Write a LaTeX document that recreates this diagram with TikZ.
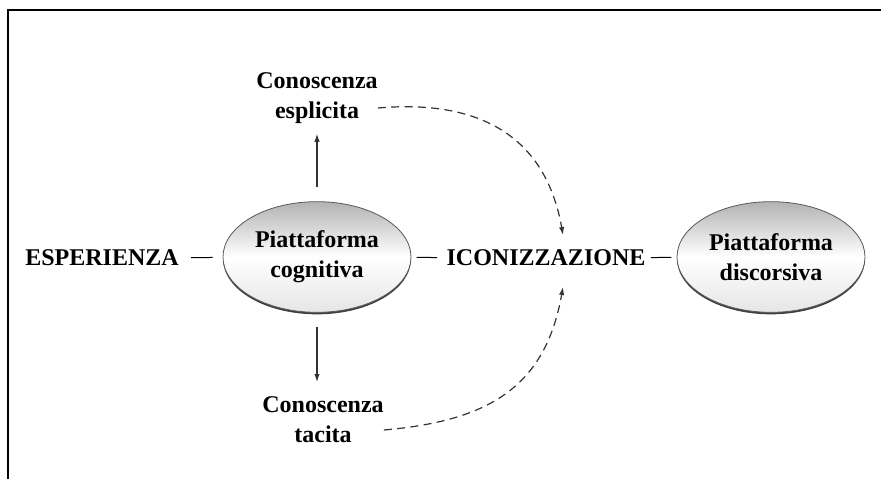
\documentclass[tikz,border=0pt]{standalone}
\usepackage{fontspec}
\setmainfont{Liberation Serif}
\usetikzlibrary{shapes.geometric,arrows.meta,shadows}

\begin{document}
\begin{tikzpicture}[x=0.75pt,y=0.75pt,
    txt/.style={font=\bfseries\fontsize{18}{22.5}\selectfont,align=center,inner sep=0pt},
    platform/.style={txt,ellipse,draw=gray!70!black,line width=0.6pt,
        minimum width=141pt,minimum height=83pt,
        top color=gray!60,bottom color=gray!20,middle color=white,
        drop shadow={shadow xshift=0pt,shadow yshift=-1.5pt,fill=black!75,opacity=1}},
    tie/.style={line width=0.75pt},
    flow/.style={line width=0.8pt,black!80,-{Latex[length=6pt,width=4pt]}},
    link/.style={line width=0.9pt,black!80,dash pattern=on 6pt off 4pt,-{Latex[length=6pt,width=4pt]}}]
    \useasboundingbox (0,0) rectangle (881,479);
    \draw[line width=2.2pt] (8,0) -- (8,469) -- (881,469);

    \node[txt] (esp) at (102,221) {ESPERIENZA};
    \node[platform] (cog) at (317,222) {Piattaforma\\cognitiva};
    \node[txt] (icon) at (546,221) {ICONIZZAZIONE};
    \node[platform] (disc) at (771,222) {Piattaforma\\discorsiva};
    \node[txt] (espl) at (317,381) {Conoscenza\\esplicita};
    \node[txt] (tac) at (323,59) {Conoscenza\\tacita};

    \coordinate (up) at (563,244);
    \coordinate (down) at (563,192);

    % linea orizzontale
    \draw[tie,shorten <=9pt,shorten >=7.5pt] (esp) -- (cog);
    \draw[tie,shorten <=4pt,shorten >=7pt] (cog) -- (icon);
    \draw[tie,shorten <=4pt,shorten >=4pt] (icon) -- (disc);

    % conoscenza
    \draw[flow,shorten <=11pt,shorten >=7.5pt] (cog) -- (cog |- espl.south);
    \draw[flow,shorten <=11pt,shorten >=11pt] (cog) -- (cog |- tac.north);
    \draw[link] ([shift={(0,-10)}]espl.east) to[out=5,in=100,looseness=1.15] (up);
    \draw[link] ([shift={(0,-10)}]tac.east) to[out=5,in=-100,looseness=1.15] (down);

\end{tikzpicture}
\end{document}
